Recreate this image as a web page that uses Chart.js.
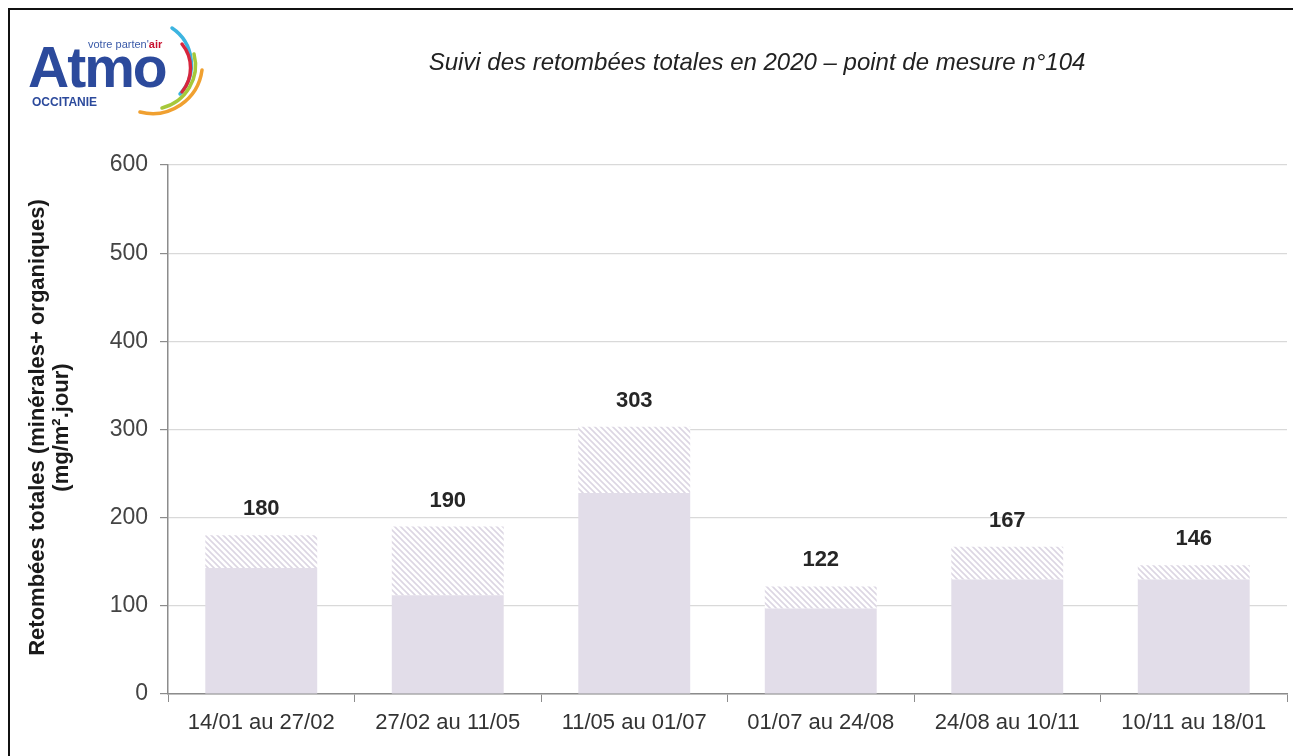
<!DOCTYPE html>
<html>
<head>
<meta charset="utf-8">
<script src="https://cdn.jsdelivr.net/npm/chart.js@4"></script>
<style>
  body { margin: 0; background: #fff; }
  #wrap { position: relative; width: 1293px; height: 756px; overflow: hidden; }
  #frame { position: absolute; left: 8px; top: 8px; right: -4px; bottom: -4px; border-left: 2px solid #111; border-top: 2px solid #111; }
  #myChart { position: absolute; left: 0; top: 0; }
  #title { position: absolute; left: 0; width: 1514px; top: 48px; text-align: center;
    font: italic 24px "Liberation Sans", Arial, sans-serif; color: #222; }
  #logo { position: absolute; left: 22px; top: 22px; width: 200px; height: 95px; }
  #logo .small { position: absolute; left: 66px; top: 16px; font: 11px "Liberation Sans", Arial, sans-serif; color: #3a5aa8; }
  #logo .small b { color: #c8102e; }
  #logo .big { position: absolute; left: 6px; top: 12px; font: bold 57px "Liberation Sans", Arial, sans-serif; color: #2c4a9c; letter-spacing: -2px; }
  #logo .occ { position: absolute; left: 10px; top: 73px; font: bold 12px "Liberation Sans", Arial, sans-serif; color: #2c4a9c; }
  #logo svg { position: absolute; left: 0; top: 0; }
</style>
</head>
<body>
<div id="wrap">
  <canvas id="myChart" width="1293" height="756"></canvas>
  <div id="frame"></div>
  <div id="title">Suivi des retombées totales en 2020 – point de mesure n°104</div>
  <div id="logo">
    <svg width="200" height="95" viewBox="0 0 200 95">
      <path d="M150 6 A 44 44 0 0 1 158 72" fill="none" stroke="#3cb4e0" stroke-width="3.5" stroke-linecap="round"/>
      <path d="M160 22 A 38 38 0 0 1 160 70" fill="none" stroke="#d7263d" stroke-width="3.5" stroke-linecap="round"/>
      <path d="M172 32 A 44 44 0 0 1 140 86" fill="none" stroke="#a6c83a" stroke-width="3.5" stroke-linecap="round"/>
      <path d="M180 48 A 50 50 0 0 1 118 90" fill="none" stroke="#f0a030" stroke-width="3.5" stroke-linecap="round"/>
    </svg>
    <div class="small">votre parten'<b>air</b></div>
    <div class="big">Atmo</div>
    <div class="occ">OCCITANIE</div>
  </div>
</div>
<script>
const categories = ["14/01 au 27/02", "27/02 au 11/05", "11/05 au 01/07", "01/07 au 24/08", "24/08 au 10/11", "10/11 au 18/01"];
const mineralValues = [143, 112, 228, 97, 130, 130];
const organicValues = [37, 78, 75, 25, 37, 16];
const totalValues = [180, 190, 303, 122, 167, 146];
const yTicks = [0, 100, 200, 300, 400, 500, 600];

const FONT = '"Liberation Sans", Arial, sans-serif';

function makeHatch() {
  const s = 6;
  const c = document.createElement("canvas");
  c.width = s; c.height = s;
  const g = c.getContext("2d");
  g.fillStyle = "#ffffff";
  g.fillRect(0, 0, s, s);
  g.strokeStyle = "#dcd6e3";
  g.lineWidth = 1.6;
  g.beginPath();
  g.moveTo(-1, -1); g.lineTo(s + 1, s + 1);
  g.moveTo(-1, s - 1); g.lineTo(1, s + 1);
  g.moveTo(s - 1, -1); g.lineTo(s + 1, 1);
  g.stroke();
  return g.createPattern(c, "repeat");
}

const ctx = document.getElementById("myChart").getContext("2d");

// totals above the bars
const totalLabels = {
  id: "totalLabels",
  afterDatasetsDraw(chart) {
    const meta = chart.getDatasetMeta(1);
    const c = chart.ctx;
    c.save();
    c.font = "bold 22px " + FONT;
    c.fillStyle = "#262626";
    c.textAlign = "center";
    c.textBaseline = "middle";
    meta.data.forEach((bar, i) => {
      c.fillText(totalValues[i], bar.x, bar.y - 26);
    });
    c.restore();
  },
};

// two-line rotated y axis title
const yTitle = {
  id: "yTitle",
  afterDraw(chart) {
    const c = chart.ctx;
    const area = chart.chartArea;
    const cy = (area.top + area.bottom) / 2 - 2;
    c.save();
    c.translate(50, cy);
    c.rotate(-Math.PI / 2);
    c.font = "bold 22px " + FONT;
    c.fillStyle = "#1a1a1a";
    c.textAlign = "center";
    c.textBaseline = "middle";
    c.fillText("Retombées totales (minérales+ organiques)", 0, -12);
    c.fillText("(mg/m\u00b2.jour)", 0, 12);
    c.restore();
  },
};

new Chart(ctx, {
  type: "bar",
  data: {
    labels: categories,
    datasets: [
      {
        label: "Minérales",
        data: mineralValues,
        backgroundColor: "#e2dde9",
        borderWidth: 0,
        categoryPercentage: 1,
        barPercentage: 0.6,
      },
      {
        label: "Organiques",
        data: organicValues,
        backgroundColor: makeHatch(),
        borderWidth: 0,
        categoryPercentage: 1,
        barPercentage: 0.6,
      },
    ],
  },
  plugins: [totalLabels, yTitle],
  options: {
    responsive: false,
    animation: false,
    layout: { padding: { top: 165, right: 6, left: 0, bottom: 0 } },
    plugins: { legend: { display: false }, tooltip: { enabled: false } },
    scales: {
      x: {
        stacked: true,
        afterFit: (scale) => { scale.height = 62; },
        grid: {
          offset: true,
          drawOnChartArea: false,
          drawTicks: true,
          tickLength: 8,
          tickColor: "#8c8c8c",
        },
        border: { color: "#8c8c8c", width: 1.5 },
        ticks: { color: "#333", font: { family: FONT, size: 22 }, padding: 8 },
      },
      y: {
        stacked: true,
        min: 0,
        max: 600,
        afterFit: (scale) => { scale.width = 168; },
        afterBuildTicks: (scale) => { scale.ticks = yTicks.map((v) => ({ value: v })); },
        grid: { color: "#d9d9d9", lineWidth: 1.2, tickLength: 8, tickColor: "#8c8c8c" },
        border: { color: "#8c8c8c", width: 1.5 },
        ticks: { color: "#444", font: { family: FONT, size: 23 }, padding: 12 },
      },
    },
  },
});
</script>
</body>
</html>
